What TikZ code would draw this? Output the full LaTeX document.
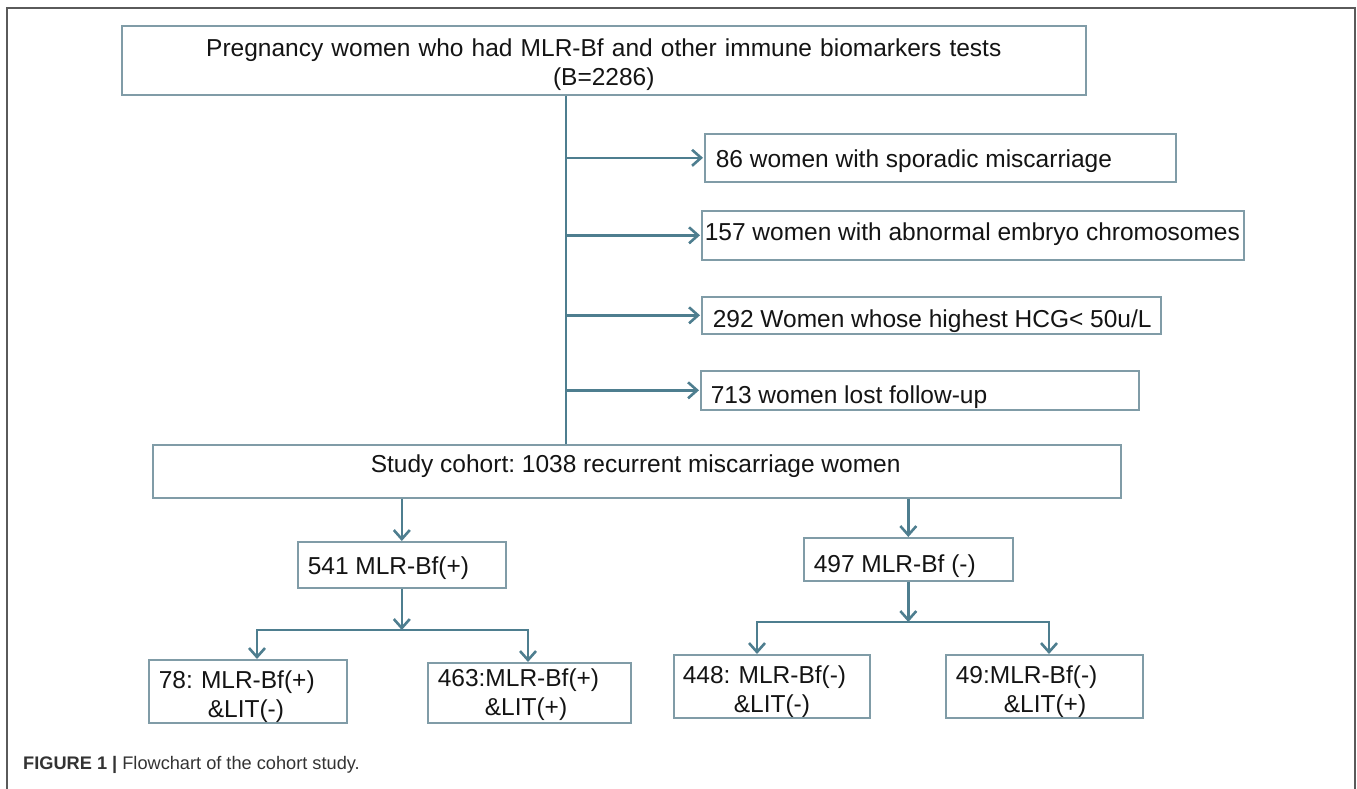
\documentclass[tikz,border=0pt]{standalone}
\usepackage{fontspec}
\setmainfont{Liberation Sans}
\usetikzlibrary{arrows.meta}
\definecolor{conncol}{RGB}{78,126,143}
\definecolor{boxcol}{RGB}{128,156,167}
\definecolor{framecol}{RGB}{90,90,90}
\definecolor{txtcol}{RGB}{20,20,20}
\definecolor{capcol}{RGB}{51,51,51}
\frenchspacing
\begin{document}
\begin{tikzpicture}[x=1pt,y=-1pt,
  box/.style={draw=boxcol, line width=1.6pt, inner sep=0pt, anchor=north west,
              text=txtcol, font=\fontsize{24.5}{29}\selectfont},
  twoline/.style={box, align=left},
  conn/.style={draw=conncol, line width=2.6pt},
  arr/.style={conn, -{Straight Barb[length=9pt,width=16pt]}},
  framestyle/.style={draw=framecol, line width=2pt}
]
\useasboundingbox (0,0) rectangle (1357,789);
\draw[framestyle] (7,789) -- (7,8) -- (1355,8) -- (1355,789);

% top box
\node[box, minimum width=964pt, minimum height=69pt, text width=964pt, align=center,
      text height=24pt, text depth=31pt, font=\fontsize{24.5}{29}\selectfont]
  (top) at (121,25) {Pregnancy women who had MLR-Bf and other immune biomarkers tests\\(B=2286)};

% exclusion boxes
\node[box, minimum width=471pt, minimum height=48pt, text height=22pt, text depth=2pt]
  (b1) at (704,133) {\makebox[471pt][l]{\hspace*{11pt}86 women with sporadic miscarriage}};
\node[box, minimum width=542pt, minimum height=49pt, text height=15pt, text depth=4pt]
  (b2) at (701,210) {\makebox[542pt][l]{\hspace*{3pt}157 women with abnormal embryo chromosomes}};
\node[box, minimum width=459pt, minimum height=37pt, text height=27pt, text depth=2pt]
  (b3) at (701,296) {\makebox[459pt][l]{\hspace*{11pt}292 Women whose highest HCG< 50u/L}};
\node[box, minimum width=438pt, minimum height=39pt, text height=29pt, text depth=2pt]
  (b4) at (700,370) {\makebox[438pt][l]{\hspace*{10pt}713 women lost follow-up}};

% study cohort
\node[box, minimum width=968pt, minimum height=53pt, text height=11pt, text depth=8pt]
  (study) at (152,444) {\makebox[968pt][l]{\hspace*{218pt}Study cohort: 1038 recurrent miscarriage women}};

% MLR groups
\node[box, minimum width=208pt, minimum height=46pt, text height=22pt, text depth=2pt]
  (p1) at (297,541) {\makebox[208pt][l]{\hspace*{10pt}541 MLR-Bf(+)}};
\node[box, minimum width=209pt, minimum height=43pt, text height=29pt, text depth=2pt]
  (p2) at (803,537) {\makebox[209pt][l]{\hspace*{10pt}497 MLR-Bf (-)}};

% bottom boxes
\node[twoline, minimum width=198pt, minimum height=63pt, text width=198pt, text height=24pt, text depth=29pt]
  (q1) at (148,659) {\hspace*{10pt}78: MLR-Bf(+)\\\hspace*{59pt}\&LIT(-)};
\node[twoline, minimum width=203pt, minimum height=60pt, text width=203pt, text height=17pt, text depth=29pt]
  (q2) at (427,662) {\hspace*{10pt}463:MLR-Bf(+)\\\hspace*{57pt}\&LIT(+)};
\node[twoline, minimum width=196pt, minimum height=63pt, text width=196pt, text height=24pt, text depth=29pt]
  (q3) at (673,654) {\hspace*{9pt}448: MLR-Bf(-)\\\hspace*{60pt}\&LIT(-)};
\node[twoline, minimum width=197pt, minimum height=63pt, text width=197pt, text height=24pt, text depth=29pt]
  (q4) at (945,654) {\hspace*{10pt}49:MLR-Bf(-)\\\hspace*{58pt}\&LIT(+)};

% caption
\node[anchor=base west, inner sep=0pt, text=capcol, font=\fontsize{18.2}{20}\selectfont]
  (cap) at (23,769) {\textbf{FIGURE 1 |} Flowchart of the cohort study.};

% connectors
\coordinate (vx) at (566,0);
\draw[conn] (top.south -| vx) -- (study.north -| vx);
\foreach \b in {b1,b2,b3,b4} \draw[arr, shorten >=1pt] (vx |- \b.west) -- (\b.west);

\draw[arr] (study.south -| p1.north) -- (p1.north);
\draw[arr] (study.south -| p2.north) -- (p2.north);

\coordinate (bar1l) at (257,630);
\coordinate (bar1r) at (528,630);
\draw[arr] (p1.south) -- (p1.south |- bar1l);
\draw[conn, line cap=rect] (bar1l) -- (bar1r);
\draw[arr] (bar1l) -- (bar1l |- q1.north);
\draw[arr] (bar1r) -- (bar1r |- q2.north);

\coordinate (bar2l) at (757,622);
\coordinate (bar2r) at (1049,622);
\draw[arr] (p2.south) -- (p2.south |- bar2l);
\draw[conn, line cap=rect] (bar2l) -- (bar2r);
\draw[arr] (bar2l) -- (bar2l |- q3.north);
\draw[arr] (bar2r) -- (bar2r |- q4.north);
\end{tikzpicture}
\end{document}
